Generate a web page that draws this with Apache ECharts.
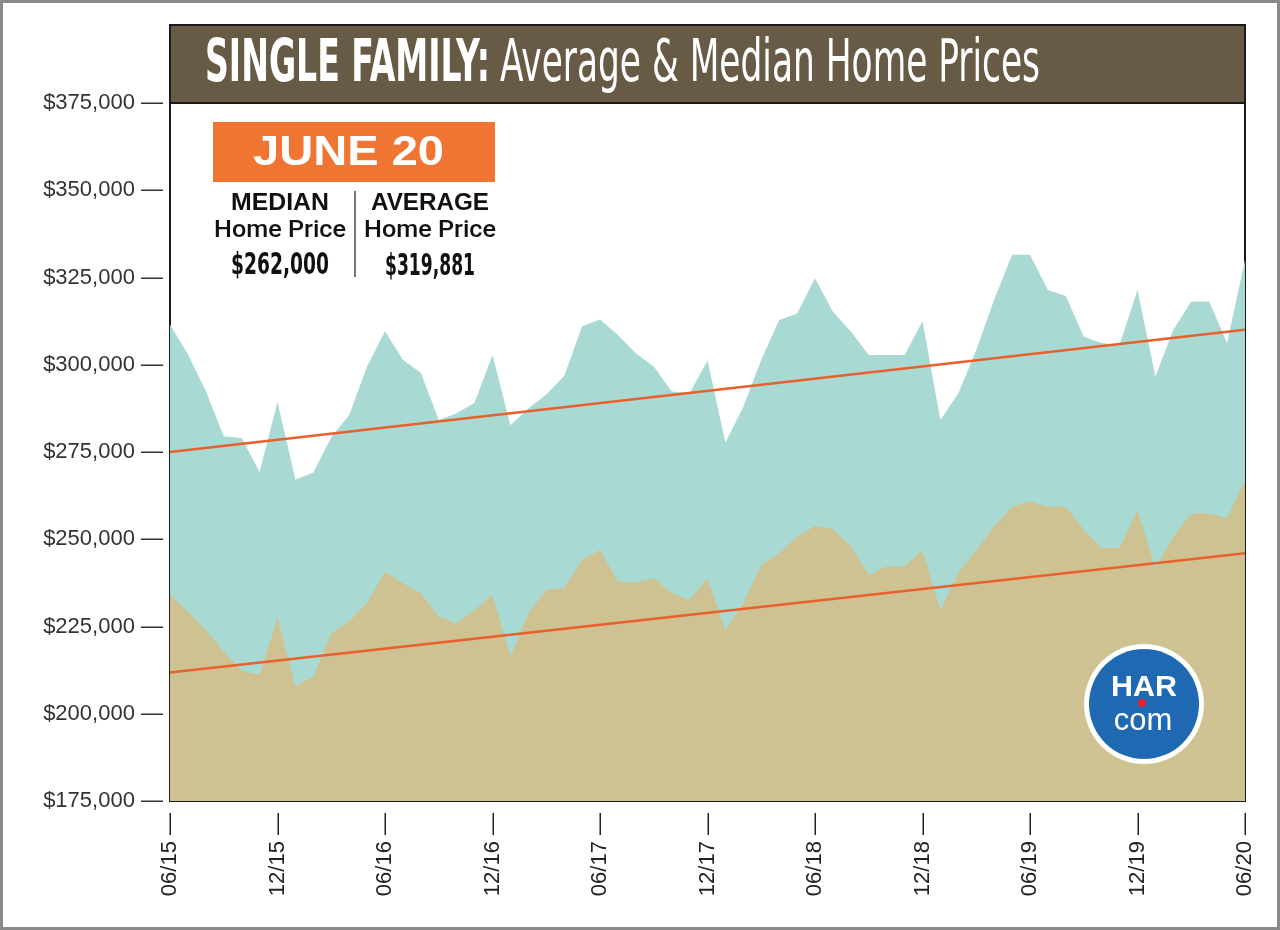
<!DOCTYPE html>
<html>
<head>
<meta charset="utf-8">
<script src="https://cdn.jsdelivr.net/npm/echarts@6/dist/echarts.min.js"></script>
<style>
html,body{margin:0;padding:0;background:#fff;}
#chart{width:1280px;height:930px;}
</style>
</head>
<body>
<div id="chart"></div>
<script>
// ---- Data ----
const months = [
 '06/15','07/15','08/15','09/15','10/15','11/15','12/15','01/16','02/16','03/16','04/16','05/16',
 '06/16','07/16','08/16','09/16','10/16','11/16','12/16','01/17','02/17','03/17','04/17','05/17',
 '06/17','07/17','08/17','09/17','10/17','11/17','12/17','01/18','02/18','03/18','04/18','05/18',
 '06/18','07/18','08/18','09/18','10/18','11/18','12/18','01/19','02/19','03/19','04/19','05/19',
 '06/19','07/19','08/19','09/19','10/19','11/19','12/19','01/20','02/20','03/20','04/20','05/20',
 '06/20'
];
const averagePrice = [
 311500, 303000, 292500, 279500, 279000, 269300, 289300, 267100, 269100, 279200,
 285600, 299500, 309600, 301400, 297700, 284200, 286100, 289100, 302800, 282700,
 287500, 291500, 296800, 311000, 313000, 308500, 303300, 299500, 292300, 291800,
 301200, 277700, 288000, 301400, 312800, 314700, 324800, 315200, 309500, 302800,
 302800, 302800, 312500, 284200, 291800, 304200, 318600, 331500, 331500, 321400,
 319700, 308000, 306200, 305700, 321400, 296600, 310000, 318100, 318100, 306200,
 330000
];
const medianPrice = [
 234200, 229300, 224000, 217800, 212400, 211100, 227400, 207800, 210600, 223100,
 226400, 231700, 240700, 237400, 234500, 227800, 225900, 229700, 234000, 216400,
 228800, 235500, 236000, 244100, 246900, 237900, 237600, 238800, 234500, 232600,
 238800, 224000, 231700, 242600, 246000, 250700, 253800, 252900, 247900, 239800,
 242200, 242200, 246900, 229700, 240300, 246900, 253600, 259300, 260800, 259300,
 259300, 252700, 247400, 247400, 258400, 241700, 250700, 257400, 257400, 256000,
 267000
];
const averageTrend = [275000, 310000];   // at first and last month
const medianTrend = [211800, 246000];    // at first and last month
const titleBold = 'SINGLE FAMILY:';
const titleRest = 'Average & Median Home Prices';
const badgeMonth = 'JUNE 20';
const medianLabel = ['MEDIAN', 'Home Price', '$262,000'];
const averageLabel = ['AVERAGE', 'Home Price', '$319,881'];

// ---- helpers ----
const NARROW = '"Liberation Sans Narrow","DejaVu Sans Condensed","Roboto Condensed",sans-serif';
const SANS = '"Liberation Sans",Arial,Helvetica,sans-serif';
const mctx = document.createElement('canvas').getContext('2d');
function fitScale(text, font, target) {
  mctx.font = font;
  const w = mctx.measureText(text).width;
  return w > 0 ? target / w : 1;
}
function fitText(text, font, cx, cy, target, fill, align) {
  return {
    type: 'text', x: cx, y: cy, z: 51,
    scaleX: fitScale(text, font, target),
    style: {text: text, font: font, fill: fill || '#111',
            textAlign: align || 'center', textVerticalAlign: 'middle'}
  };
}
const tFontB = 'bold 58px ' + NARROW;
const tFontR = 'normal 58px ' + NARROW;
const hdFont = 'bold 23px ' + SANS;
const hpFont = '500 23px Roboto,' + SANS;
const vFont = 'bold 30px ' + NARROW;

const chart = echarts.init(document.getElementById('chart'), null, {renderer: 'canvas'});

const first = months[0], last = months[months.length - 1];

const option = {
  animation: false,
  backgroundColor: '#ffffff',
  grid: {
    left: 170, right: 35, top: 103, bottom: 129,
    show: true, borderColor: '#1a1a1a', borderWidth: 2, backgroundColor: 'transparent'
  },
  xAxis: {
    type: 'category',
    data: months,
    boundaryGap: false,
    axisLine: {show: false},
    axisTick: {show: false},
    splitLine: {show: false},
    axisLabel: {
      interval: 5,
      rotate: 90,
      margin: 12,
      fontFamily: SANS,
      fontSize: 22,
      color: '#222',
      formatter: v => v + ' \u2014'
    }
  },
  yAxis: {
    type: 'value',
    min: 175000, max: 375000, interval: 25000,
    axisLine: {show: false},
    axisTick: {show: false},
    splitLine: {show: false},
    axisLabel: {
      margin: 7,
      fontFamily: SANS,
      fontSize: 22,
      color: '#333',
      formatter: v => '$' + v.toLocaleString('en-US') + ' \u2014'
    }
  },
  series: [
    {
      name: 'Average', type: 'line', data: averagePrice,
      symbol: 'none', lineStyle: {width: 0},
      areaStyle: {color: '#a8dad3', opacity: 1, origin: 'start'},
      z: 1
    },
    {
      name: 'Median', type: 'line', data: medianPrice,
      symbol: 'none', lineStyle: {width: 0},
      areaStyle: {color: '#cec192', opacity: 1, origin: 'start'},
      z: 2
    },
    {
      name: 'Average trend', type: 'line',
      data: [[first, averageTrend[0]], [last, averageTrend[1]]],
      symbol: 'none', lineStyle: {color: '#e8602b', width: 2.5}, z: 3
    },
    {
      name: 'Median trend', type: 'line',
      data: [[first, medianTrend[0]], [last, medianTrend[1]]],
      symbol: 'none', lineStyle: {color: '#e8602b', width: 2.5}, z: 3
    }
  ],
  graphic: [
    // outer frame
    {type: 'rect', shape: {x: 1.5, y: 1.5, width: 1277, height: 927},
     style: {fill: null, stroke: '#8a8a8a', lineWidth: 3}, z: 100},
    // title bar
    {type: 'rect', shape: {x: 170, y: 25, width: 1075, height: 78},
     style: {fill: '#675b46', stroke: '#1a1a1a', lineWidth: 2}, z: 50},
    fitText(titleBold, tFontB, 205, 66, 285, '#ffffff', 'left'),
    fitText(titleRest, tFontR, 500, 66, 540, '#ffffff', 'left'),
    // June badge
    {type: 'rect', shape: {x: 213, y: 122, width: 282, height: 60},
     style: {fill: '#f07432'}, z: 50},
    fitText(badgeMonth, 'bold 43px ' + SANS, 348.5, 153, 191, '#ffffff'),
    // labels
    fitText(medianLabel[0], hdFont, 280, 204, 98),
    fitText(medianLabel[1], hpFont, 280, 231, 132),
    fitText(medianLabel[2], vFont, 280, 266, 98),
    fitText(averageLabel[0], hdFont, 430, 204, 118),
    fitText(averageLabel[1], hpFont, 430, 231, 132),
    fitText(averageLabel[2], vFont, 430, 267, 90),
    {type: 'line', shape: {x1: 355, y1: 191, x2: 355, y2: 277},
     style: {stroke: '#777', lineWidth: 2}, z: 51},
    // HAR logo
    {type: 'circle', shape: {cx: 1144, cy: 704, r: 60}, style: {fill: '#ffffff'}, z: 60},
    {type: 'circle', shape: {cx: 1144, cy: 704, r: 55}, style: {fill: '#1f69b3'}, z: 61},
    {type: 'text', x: 1144, y: 688, z: 62, scaleX: 1.05,
     style: {text: 'HAR', font: '900 29px ' + SANS, fill: '#ffffff', textAlign: 'center', textVerticalAlign: 'middle'}},
    {type: 'text', x: 1143, y: 721, z: 62,
     style: {text: 'com', font: 'normal 31px ' + SANS, fill: '#ffffff', textAlign: 'center', textVerticalAlign: 'middle'}},
    {type: 'circle', shape: {cx: 1142, cy: 703, r: 4}, style: {fill: '#e8232f'}, z: 63}
  ]
};
chart.setOption(option);
</script>
</body>
</html>
